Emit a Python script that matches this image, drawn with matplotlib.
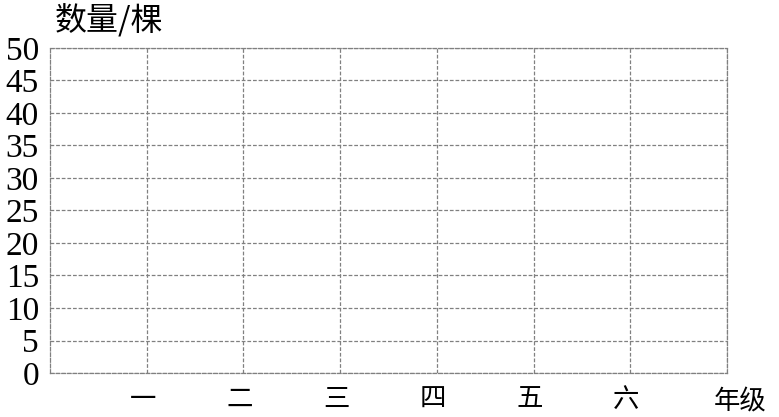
import matplotlib
matplotlib.use("Agg")
import matplotlib.pyplot as plt
import numpy as np

categories = ['一', '二', '三', '四', '五', '六']
y_ticks = [0, 5, 10, 15, 20, 25, 30, 35, 40, 45, 50]
y_label = '数量/棵'
x_label = '年级'

cjk = ['Noto Sans CJK SC', 'DejaVu Sans']

fig = plt.figure(figsize=(7.79, 4.17), dpi=100)
ax = fig.add_axes([0.0642, 0.1055, 0.869, 0.7795])
ax.set_xlim(0, len(categories) + 1)
ax.set_ylim(0, 50)

gcol = '#808080'
ls = (0, (3, 1.5))
for x in range(1, len(categories) + 2):
    ax.axvline(x, color=gcol, lw=0.9, ls=ls)
for y in y_ticks:
    ax.axhline(y, color=gcol, lw=0.9, ls=ls)
for s in ax.spines.values():
    s.set_color(gcol)
    s.set_linewidth(0.9)
    s.set_linestyle(ls)

ax.set_yticks(y_ticks)
ax.set_yticklabels([str(v) for v in y_ticks], fontfamily='Liberation Serif', fontsize=24)
ax.tick_params(axis='y', length=0, pad=8)
ax.set_xticks([i + 1 - 0.04 for i in range(len(categories))])
ax.set_xticklabels(categories, family=cjk, fontsize=19)
ax.tick_params(axis='x', length=0, pad=9)

ax.text(0.05, 51.6, y_label, family=cjk, fontsize=23, ha='left', va='bottom', clip_on=False)
ax.text(7.14, -4.4, x_label, family=cjk, fontsize=19, ha='center', va='center', clip_on=False)

fig.savefig('out.png', dpi=100)
